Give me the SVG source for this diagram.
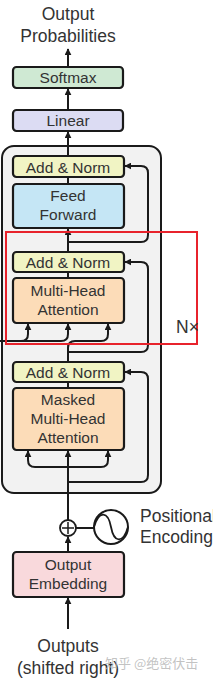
<svg xmlns="http://www.w3.org/2000/svg" width="213" height="682" viewBox="0 0 213 682">
<style>
.box{stroke:#1a1a1a;stroke-width:2.2}
.t{font-family:"Liberation Sans",Arial,sans-serif;font-size:15.5px;fill:#333;text-anchor:middle}
.lbl{font-family:"Liberation Sans",Arial,sans-serif;font-size:17.5px;fill:#333}
.ln{fill:none;stroke:#1a1a1a;stroke-width:2}
</style>
<defs>
<marker id="ah" viewBox="0 0 10 10" refX="9" refY="5" markerWidth="3.5" markerHeight="3.5" orient="auto" markerUnits="strokeWidth">
<path d="M0,0 L10,5 L0,10 z" fill="#1a1a1a"/>
</marker>
</defs>
<rect width="213" height="682" fill="#fff"/>
<g id="decoder-block">
<rect x="2" y="146" width="159" height="347" rx="12" fill="#f2f2f2" stroke="#1a1a1a" stroke-width="2"/>
</g>
<g id="connectors">
<path class="ln" d="M68,67 V49" marker-end="url(#ah)"/>
<path class="ln" d="M68,109 V89" marker-end="url(#ah)"/>
<path class="ln" d="M68,156 V132" marker-end="url(#ah)"/>
<path class="ln" d="M68,184 V177"/>
<path class="ln" d="M68,252 V229" marker-end="url(#ah)"/>
<path class="ln" d="M68,242 H141 Q148,242 148,235 V173 Q148,166 141,166 H125" marker-end="url(#ah)"/>
<path class="ln" d="M68,278 V272"/>
<path class="ln" d="M68,362 V348 Q68,341 75,341 H101 Q108,341 108,334 V324" marker-end="url(#ah)"/>
<path class="ln" d="M0,341 H21 Q28,341 28,334 V324" marker-end="url(#ah)"/>
<path class="ln" d="M21,341 H61 Q68,341 68,334 V324" marker-end="url(#ah)"/>
<path class="ln" d="M68,352 H141 Q148,352 148,345 V269 Q148,262 141,262 H125" marker-end="url(#ah)"/>
<path class="ln" d="M68,388 V382"/>
<path class="ln" d="M68,520 V451" marker-end="url(#ah)"/>
<path class="ln" d="M68,467 H35 Q28,467 28,460 V451" marker-end="url(#ah)"/>
<path class="ln" d="M68,467 H101 Q108,467 108,460 V451" marker-end="url(#ah)"/>
<path class="ln" d="M68,482 H141 Q148,482 148,475 V379 Q148,372 141,372 H125" marker-end="url(#ah)"/>
<path class="ln" d="M68,552 V537" marker-end="url(#ah)"/>
<path class="ln" d="M76,528 H94"/>
<path class="ln" d="M68,629 V598" marker-end="url(#ah)"/>
</g>
<g id="output-probabilities">
<text class="lbl" x="68" y="20" text-anchor="middle">Output</text>
<text class="lbl" x="68" y="42" text-anchor="middle">Probabilities</text>
</g>
<g id="softmax">
<rect class="box" x="13" y="67" width="110" height="21" rx="3.5" fill="#cfe9d3"/>
<text class="t" x="68" y="83">Softmax</text>
</g>
<g id="linear">
<rect class="box" x="13" y="110" width="110" height="21" rx="3.5" fill="#dcdcf3"/>
<text class="t" x="68" y="126">Linear</text>
</g>
<g id="add-norm-1">
<rect class="box" x="13" y="156" width="111" height="21" rx="3.5" fill="#f1f4c4"/>
<text class="t" x="68" y="173">Add &amp; Norm</text>
</g>
<g id="feed-forward">
<rect class="box" x="13" y="184" width="111" height="44" rx="3.5" fill="#c5e6f5"/>
<text class="t" x="68" y="201">Feed</text>
<text class="t" x="68" y="220">Forward</text>
</g>
<g id="add-norm-2">
<rect class="box" x="13" y="252" width="111" height="20" rx="3.5" fill="#f1f4c4"/>
<text class="t" x="68" y="268">Add &amp; Norm</text>
</g>
<g id="multi-head-attention">
<rect class="box" x="13" y="278" width="111" height="45" rx="3.5" fill="#fcdcb8"/>
<text class="t" x="68" y="296">Multi-Head</text>
<text class="t" x="68" y="315">Attention</text>
</g>
<g id="add-norm-3">
<rect class="box" x="13" y="362" width="111" height="20" rx="3.5" fill="#f1f4c4"/>
<text class="t" x="68" y="378">Add &amp; Norm</text>
</g>
<g id="masked-multi-head-attention">
<rect class="box" x="13" y="388" width="111" height="62" rx="3.5" fill="#fcdcb8"/>
<text class="t" x="68" y="405">Masked</text>
<text class="t" x="68" y="424">Multi-Head</text>
<text class="t" x="68" y="443">Attention</text>
</g>
<g id="nx-highlight">
<rect x="6" y="232" width="191" height="112" fill="none" stroke="#e8232c" stroke-width="2"/>
<text class="lbl" x="176" y="333">N×</text>
</g>
<g id="add">
<circle cx="68" cy="528" r="8" fill="#fff" stroke="#1a1a1a" stroke-width="1.8"/>
<path d="M62,528 H74 M68,522 V534" stroke="#1a1a1a" stroke-width="1.5"/>
</g>
<g id="positional-encoding">
<circle cx="111" cy="527" r="17" fill="#fff" stroke="#1a1a1a" stroke-width="2"/>
<path d="M94,527 C99,510 108,511 111,527 C114,543 123,544 128,527" fill="none" stroke="#1a1a1a" stroke-width="1.8"/>
<text class="lbl" x="140" y="522">Positional</text>
<text class="lbl" x="140" y="543">Encoding</text>
</g>
<g id="output-embedding">
<rect class="box" x="13" y="552" width="111" height="45" rx="3.5" fill="#f9d9dc"/>
<text class="t" x="68" y="570">Output</text>
<text class="t" x="68" y="589">Embedding</text>
</g>
<g id="outputs">
<text class="lbl" x="68" y="652" text-anchor="middle">Outputs</text>
<text class="lbl" x="68" y="674" text-anchor="middle">(shifted right)</text>
</g>
<text x="105" y="668" font-family="'Noto Sans CJK SC',sans-serif" font-size="13" fill="#b8b8b8" fill-opacity="0.85">知乎 @绝密伏击</text>
</svg>
